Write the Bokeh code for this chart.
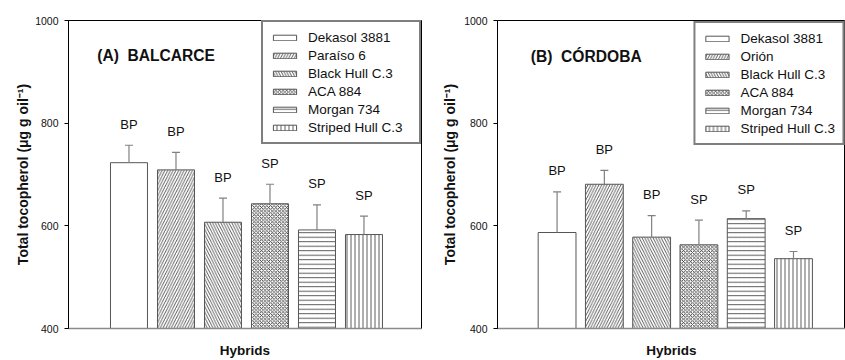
from bokeh.plotting import figure
from bokeh.models import (ColumnDataSource, Range1d, FixedTicker, Whisker, TeeHead,
                          LabelSet, Label, Legend, LegendItem)
from bokeh.core.properties import value
from bokeh.layouts import row
from bokeh.embed import file_html
from bokeh.resources import INLINE

# ---------------- data ----------------
hybrids_a = ["Dekasol 3881", "Paraíso 6", "Black Hull C.3", "ACA 884", "Morgan 734", "Striped Hull C.3"]
hybrids_b = ["Dekasol 3881", "Orión", "Black Hull C.3", "ACA 884", "Morgan 734", "Striped Hull C.3"]
mean_a = [723, 709, 607, 643, 592, 583]
err_a = [34, 34, 47, 38, 49, 36]
mean_b = [587, 681, 578, 563, 614, 536]
err_b = [79, 27, 42, 48, 15, 14]
group_a = ["BP", "BP", "BP", "SP", "SP", "SP"]
group_b = ["BP", "BP", "BP", "SP", "SP", "SP"]
y_ticks = [400, 600, 800, 1000]

# ---------------- styles ----------------
patterns = [" ", "/", "\\", "x", "-", "|"]
hatch_scales = [4, 5.5, 5.5, 3.6, 4.5, 4]
hatch_weights = [0.5, 0.8, 0.8, 0.9, 0.8, 0.8]

FONT = "Liberation Sans"


def panel(title, names, means, errs, groups, width, min_left, min_right, top, bottom,
          x_start, x_end, bar_w, tx, ty, ylab_standoff, legend_margin, label_w):
    p = figure(width=width, height=360, output_backend="svg", toolbar_location=None,
               x_range=Range1d(x_start, x_end), y_range=Range1d(400, 1000),
               min_border_left=min_left, min_border_right=min_right,
               min_border_top=top, min_border_bottom=bottom)
    p.background_fill_color = "white"
    p.border_fill_color = "white"
    p.outline_line_color = "black"
    p.outline_line_width = 1
    p.xgrid.visible = False
    p.ygrid.visible = False

    xs = list(range(1, len(means) + 1))
    upper = [m + e for m, e in zip(means, errs)]
    src = ColumnDataSource(dict(x=xs, mean=means, upper=upper, name=names,
                                grp=groups, pat=patterns, hs=hatch_scales,
                                hw=hatch_weights))

    r = p.vbar(x="x", top="mean", bottom=400, width=bar_w, source=src,
               fill_color="white", line_color="#555555", line_width=1,
               hatch_pattern="pat", hatch_color="#333333", hatch_scale="hs",
               hatch_weight="hw")

    wh = Whisker(source=src, base="x", upper="upper", lower="mean",
                 line_color="#808080", line_width=1.2,
                 upper_head=TeeHead(size=8, line_color="#808080", line_width=1.2),
                 lower_head=None, level="overlay")
    p.add_layout(wh)

    labels = LabelSet(x="x", y="upper", text="grp", source=src, y_offset=21,
                      text_align="center", text_baseline="middle",
                      text_font=value(FONT), text_font_size=value("13px"),
                      text_color="#111111")
    p.add_layout(labels)

    p.add_layout(Label(x=tx, y=ty, text=title, text_font=FONT, text_font_size="15.6px",
                       text_font_style="bold", text_baseline="middle", text_align="left",
                       text_color="#111111"))

    items = [LegendItem(label=n, renderers=[r], index=i) for i, n in enumerate(names)]
    leg = Legend(items=items, location="top_right", margin=legend_margin,
                 border_line_color="black", border_line_width=2,
                 background_fill_color="white", background_fill_alpha=1,
                 label_text_font=FONT, label_text_font_size="13.5px",
                 label_text_color="#111111",
                 glyph_width=29, glyph_height=7, label_height=16, label_standoff=9,
                 label_width=label_w, spacing=2, padding=7)
    p.add_layout(leg)

    # y axis
    ya = p.yaxis[0]
    ya.ticker = FixedTicker(ticks=y_ticks)
    ya.minor_tick_line_color = None
    ya.major_tick_in = 0
    ya.major_tick_out = 4
    ya.major_label_standoff = 6
    ya.axis_line_color = "black"
    ya.major_tick_line_color = "black"
    ya.major_label_text_font = FONT
    ya.major_label_text_font_size = "10.5px"
    ya.major_label_text_color = "#111111"
    ya.axis_label = "Total tocopherol (μg g oil⁻¹)"
    ya.axis_label_text_font = FONT
    ya.axis_label_text_font_size = "14px"
    ya.axis_label_text_font_style = "bold"
    ya.axis_label_text_color = "#111111"
    ya.axis_label_standoff = ylab_standoff

    # x axis
    xa = p.xaxis[0]
    xa.ticker = FixedTicker(ticks=[])
    xa.major_tick_out = 0
    xa.major_tick_in = 0
    xa.minor_tick_line_color = None
    xa.major_label_standoff = 0
    xa.axis_line_color = "#8a8a8a"
    xa.axis_line_width = 1.5
    xa.axis_label = "Hybrids"
    xa.axis_label_text_font = FONT
    xa.axis_label_text_font_size = "13.5px"
    xa.axis_label_text_font_style = "bold"
    xa.axis_label_text_color = "#111111"
    xa.axis_label_standoff = 14
    return p


pa = panel("(A)\u00a0\u00a0BALCARCE", hybrids_a, mean_a, err_a, group_a,
           width=422, min_left=68, min_right=1, top=20, bottom=30,
           x_start=-0.287, x_end=7.224, bar_w=0.787, tx=0.324, ty=932,
           ylab_standoff=1, legend_margin=0, label_w=104)
pb = panel("(B)\u00a0\u00a0CÓRDOBA", hybrids_b, mean_b, err_b, group_b,
           width=423, min_left=75, min_right=0, top=17, bottom=32,
           x_start=-0.26, x_end=7.10, bar_w=0.80, tx=0.444, ty=930,
           ylab_standoff=3, legend_margin=1, label_w=20)

layout = row(pa, pb)
open("out.html", "w").write(file_html(layout, INLINE))
